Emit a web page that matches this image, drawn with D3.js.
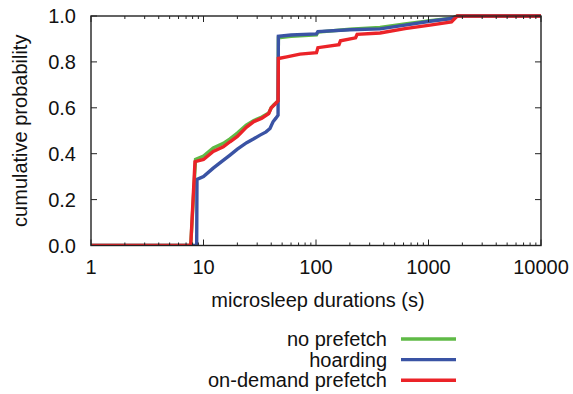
<!DOCTYPE html>
<html><head><meta charset="utf-8">
<script src="https://cdn.jsdelivr.net/npm/d3@7"></script>
<style>
body{margin:0;background:#fff;}
svg{display:block;font-family:"Liberation Sans",Arial,Helvetica,sans-serif;}
</style></head>
<body><svg id="c" width="573" height="394"></svg>
<script>
const seriesNames = ["no prefetch", "hoarding", "on-demand prefetch"];
const seriesColors = ["#5fba46", "#3a53a4", "#eb2328"];
const xTicks = [1, 10, 100, 1000, 10000];
const yTicks = [0, 0.2, 0.4, 0.6, 0.8, 1.0];

const noPrefetchX = [1,7.7,8.5,10,12.2,15,17.2,20,24,28,33,38,40,42,45,46,46.3,60,101,104,200,371,618,1031,1600,1800,10000];
const noPrefetchY = [0,0,0.375,0.39,0.425,0.445,0.465,0.49,0.525,0.545,0.56,0.577,0.6,0.612,0.625,0.63,0.905,0.912,0.918,0.93,0.942,0.95,0.965,0.98,0.99,1.0,1.0];

const hoardingX = [1,8.7,8.75,10,12.2,14,17.2,20,24.2,28,31.8,36,39,41.5,44,46,46.3,60,101,104,200,371,618,1031,1600,1840,10000];
const hoardingY = [0,0,0.288,0.3,0.337,0.36,0.394,0.42,0.448,0.465,0.481,0.495,0.51,0.539,0.555,0.568,0.912,0.917,0.922,0.932,0.94,0.944,0.96,0.977,0.989,1.0,1.0];

const onDemandX = [1,7.7,8.4,10,12.2,15,17.2,20,24,28,33,38,40,42,45,46,46.3,55,72,101,104,160,165,225,232,371,618,1031,1600,1800,10000];
const onDemandY = [0,0,0.365,0.375,0.41,0.43,0.452,0.475,0.515,0.54,0.555,0.575,0.6,0.61,0.625,0.63,0.815,0.822,0.834,0.84,0.862,0.875,0.892,0.905,0.92,0.926,0.945,0.96,0.974,1.0,1.0];

const series = [
  {name: seriesNames[0], color: seriesColors[0], xs: noPrefetchX, ys: noPrefetchY},
  {name: seriesNames[1], color: seriesColors[1], xs: hoardingX, ys: hoardingY},
  {name: seriesNames[2], color: seriesColors[2], xs: onDemandX, ys: onDemandY}
];

const svg = d3.select("#c");
const L = 91, R = 541, T = 16, B = 245.5;
const x = d3.scaleLog().domain([1, 10000]).range([L, R]);
const y = d3.scaleLinear().domain([0, 1]).range([B, T]);
const fs = 20;

// minor ticks
const minor = [];
for (let d = 1; d < 10000; d *= 10) for (let k = 2; k <= 9; k++) minor.push(d * k);

const g = svg.append("g");
const clip = svg.append("clipPath").attr("id","clp").append("rect")
  .attr("x", L).attr("y", T - 3).attr("width", R - L).attr("height", B - T + 3);
const line = d3.line().x(d => x(d[0])).y(d => y(d[1]));
series.forEach(s => {
  const pts = s.xs.map((v, i) => [v, s.ys[i]]);
  g.append("path").attr("d", line(pts)).attr("fill", "none")
    .attr("stroke", s.color).attr("stroke-width", 3.4)
    .attr("stroke-linejoin", "miter").attr("clip-path","url(#clp)");
});

// ticks
const tk = svg.append("g").attr("stroke", "#222").attr("stroke-width", 1);
xTicks.forEach(t => {
  tk.append("line").attr("x1", x(t)).attr("x2", x(t)).attr("y1", B).attr("y2", B - 6);
  tk.append("line").attr("x1", x(t)).attr("x2", x(t)).attr("y1", T).attr("y2", T + 6);
});
minor.forEach(t => {
  tk.append("line").attr("x1", x(t)).attr("x2", x(t)).attr("y1", B).attr("y2", B - 3);
  tk.append("line").attr("x1", x(t)).attr("x2", x(t)).attr("y1", T).attr("y2", T + 3);
});
yTicks.forEach(t => {
  tk.append("line").attr("x1", L).attr("x2", L + 6).attr("y1", y(t)).attr("y2", y(t));
  tk.append("line").attr("x1", R).attr("x2", R - 6).attr("y1", y(t)).attr("y2", y(t));
});

// frame
svg.append("rect").attr("x", L).attr("y", T).attr("width", R - L).attr("height", B - T)
  .attr("fill", "none").attr("stroke", "#222").attr("stroke-width", 1.4);

// tick labels
xTicks.forEach(t => {
  svg.append("text").attr("x", x(t)).attr("y", 274).attr("text-anchor", "middle")
    .attr("font-size", fs).attr("fill", "#111").text(d3.format("d")(t));
});
yTicks.forEach(t => {
  svg.append("text").attr("x", 76).attr("y", y(t) + 7).attr("text-anchor", "end")
    .attr("font-size", fs).attr("fill", "#111").text(d3.format(".1f")(t));
});

// axis titles
svg.append("text").attr("x", 318).attr("y", 307).attr("text-anchor", "middle")
  .attr("font-size", fs).attr("fill", "#111").text("microsleep durations (s)");
svg.append("text").attr("transform", `translate(27,${(T + B) / 2}) rotate(-90)`)
  .attr("text-anchor", "middle").attr("font-size", fs).attr("fill", "#111").text("cumulative probability");

// legend
series.forEach((s, i) => {
  const ly = 339 + i * 20.6;
  svg.append("text").attr("x", 387).attr("y", ly + 7).attr("text-anchor", "end")
    .attr("font-size", fs).attr("fill", "#111").text(s.name);
  svg.append("line").attr("x1", 401).attr("x2", 456).attr("y1", ly).attr("y2", ly)
    .attr("stroke", s.color).attr("stroke-width", 3.4);
});
</script></body></html>
